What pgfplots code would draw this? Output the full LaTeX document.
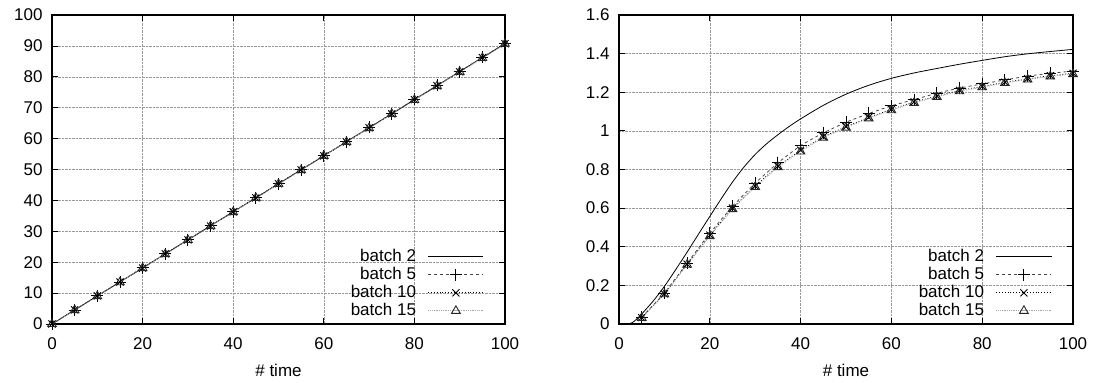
\documentclass[border=0pt]{standalone}
\usepackage{fontspec}
\setmainfont{Liberation Sans}
\usepackage{pgfplots}
\pgfplotsset{compat=1.18}
\usepackage{pgfplotstable}

\newcommand{\lbl}{\fontsize{17}{18}\selectfont}

% Throughput over time
\pgfplotstableread{
t    b2    b5    b10   b15
0    0.0   0.0   0.0   0.0
5    4.5   4.5   4.6   4.5
10   9.1   9.1   9.1   9.0
15   13.6  13.6  13.6  13.5
20   18.1  18.2  18.1  18.1
25   22.7  22.7  22.7  22.6
30   27.2  27.3  27.2  27.2
35   31.8  31.8  31.7  31.7
40   36.3  36.4  36.3  36.2
45   40.8  40.9  40.8  40.8
50   45.4  45.4  45.4  45.3
55   49.9  50.0  49.9  49.8
60   54.4  54.5  54.4  54.4
65   59.0  59.0  58.9  58.9
70   63.5  63.6  63.5  63.4
75   68.0  68.1  68.0  68.0
80   72.6  72.7  72.6  72.5
85   77.1  77.2  77.1  77.0
90   81.7  81.7  81.6  81.6
95   86.2  86.3  86.2  86.1
100  90.7  90.8  90.7  90.7
}\lineardata

% Ratio over time, batched runs
\pgfplotstableread{
t    b5     b10    b15
5    0.035  0.033  0.032
10   0.160  0.156  0.154
15   0.315  0.310  0.307
20   0.470  0.460  0.455
25   0.610  0.600  0.595
30   0.730  0.715  0.710
35   0.835  0.818  0.812
40   0.925  0.900  0.893
45   0.990  0.970  0.965
50   1.045  1.022  1.017
55   1.090  1.070  1.065
60   1.130  1.112  1.107
65   1.162  1.150  1.145
70   1.195  1.180  1.176
75   1.222  1.210  1.205
80   1.243  1.230  1.226
85   1.264  1.252  1.248
90   1.284  1.270  1.266
95   1.298  1.286  1.282
100  1.310  1.298  1.294
}\curvedata

\pgfplotstableread{
t    b2
2    0.0
3    0.008
4    0.028
5    0.052
7.5  0.118
10   0.195
12.5 0.282
15   0.372
17.5 0.465
20   0.557
22.5 0.648
25   0.735
27.5 0.812
30   0.878
32.5 0.933
35   0.980
37.5 1.023
40   1.062
45   1.132
50   1.190
55   1.236
60   1.272
65   1.300
70   1.323
75   1.345
80   1.365
85   1.384
90   1.399
95   1.411
100  1.422
}\curvebase

\pgfplotsset{
  gp/.style={
    scale only axis,
    height=309pt,
    xmin=0, xmax=100,
    xtick={0,20,...,100},
    tick align=inside,
    major tick length=6pt,
    tick style={black, line width=0.8pt},
    axis line style={line width=1.2pt},
    grid=major,
    grid style={densely dotted, gray!80, line width=0.6pt},
    tick label style={font=\lbl},
    /pgf/number format/assume math mode=true,
    xticklabel style={anchor=base, yshift=-25pt},
    yticklabel style={anchor=east, xshift=-6pt},
    xlabel={\# time},
    xlabel style={font=\lbl, at={(axis description cs:0.5,0)}, anchor=base, yshift=-52pt},
    legend plot pos=right,
    legend cell align=right,
    legend style={draw=none, fill=none, font=\lbl,
      at={(axis description cs:1,0)}, anchor=south east,
      xshift=-21pt, yshift=4pt,
      row sep=0pt, column sep=11pt, inner sep=0pt,
      nodes={inner sep=1pt, text height=12.5pt, text depth=3.5pt}},
    legend image code/.code={
      \draw[mark repeat=2,mark phase=2,#1] plot coordinates {(0pt,0pt) (27.5pt,0pt) (55pt,0pt)};
    },
  },
  s2/.style={black, line width=0.8pt, no marks},
  s5/.style={gray!55!black, dashed, line width=0.8pt, mark=+, mark size=6pt, mark options={solid, black, line width=0.9pt}},
  s10/.style={black, dotted, line width=0.8pt, mark=x, mark size=5pt, mark options={solid, black, line width=0.9pt}},
  s15/.style={gray!70, densely dotted, line width=0.8pt, mark=triangle, mark size=5pt, mark options={solid, black!85, line width=0.9pt}},
}

\begin{document}
\begin{tikzpicture}
\useasboundingbox (0pt,0pt) rectangle (1096pt,-383pt);

\begin{axis}[gp, at={(52pt,-324pt)}, anchor=south west, width=453pt,
  ymin=0, ymax=100, ytick={0,10,...,100}]
  \addplot[s2] table[x=t, y=b2] {\lineardata};
  \addplot[s5] table[x=t, y=b5] {\lineardata};
  \addplot[s10] table[x=t, y=b10] {\lineardata};
  \addplot[s15] table[x=t, y=b15] {\lineardata};
  \legend{batch 2, batch 5, batch 10, batch 15}
\end{axis}

\begin{axis}[gp, at={(619pt,-324pt)}, anchor=south west, width=454pt,
  ymin=0, ymax=1.6, ytick={0,0.2,...,1.6}]
  \addplot[s2, smooth] table[x=t, y=b2] {\curvebase};
  \addplot[s5] table[x=t, y=b5] {\curvedata};
  \addplot[s10] table[x=t, y=b10] {\curvedata};
  \addplot[s15] table[x=t, y=b15] {\curvedata};
  \legend{batch 2, batch 5, batch 10, batch 15}
\end{axis}
\end{tikzpicture}
\end{document}
